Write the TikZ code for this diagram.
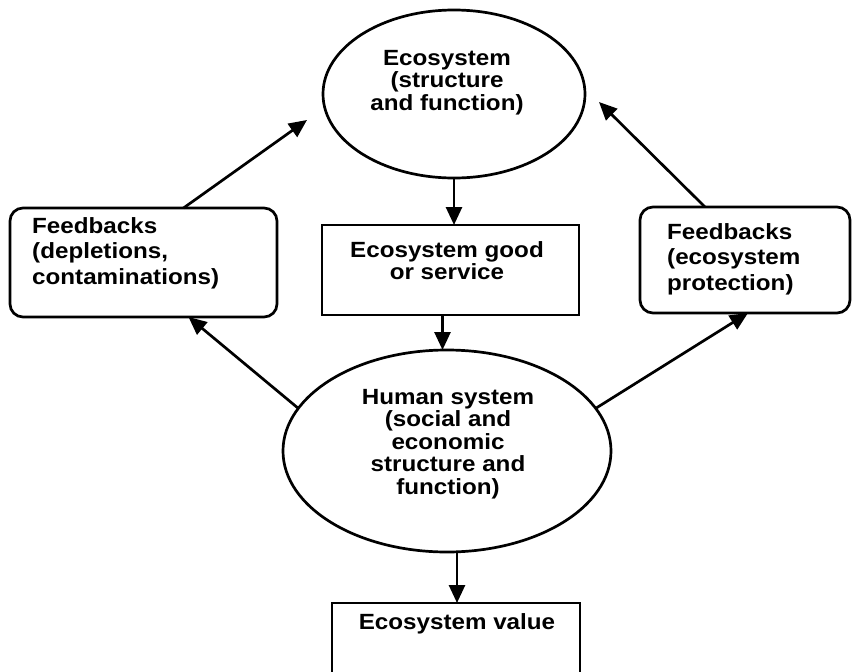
\documentclass[tikz,border=0pt]{standalone}
\usepackage{fontspec}
\setmainfont{Liberation Sans}[FakeStretch=1.1]
\usetikzlibrary{shapes.geometric,arrows.meta}
\begin{document}
\begin{tikzpicture}[x=1pt,y=-1pt,
  shp/.style={draw=black, line width=2.7pt, inner sep=0pt, outer sep=0pt},
  rbox/.style={shp, rectangle, rounded corners=13pt},
  lbl/.style={font=\fontsize{22}{22.5}\selectfont\bfseries, align=center, inner sep=0pt},
  flbl/.style={font=\fontsize{22}{25.5}\selectfont\bfseries, align=left, inner sep=0pt},
  arr/.style={-{Triangle[length=18pt,width=16pt]}, line width=2.7pt}]
\useasboundingbox (0,0) rectangle (852,672);
\clip (0,0) rectangle (852,672);
% shapes
\node[shp, ellipse, minimum width=262pt, minimum height=168pt] (eco) at (454,94) {};
\node[shp, rectangle, minimum width=257pt, minimum height=90pt] (good) at (450.5,270) {};
\node[rbox, minimum width=267pt, minimum height=109pt] (lbox) at (143.5,262.5) {};
\node[rbox, minimum width=210pt, minimum height=106pt] (rbx) at (745,260) {};
\node[shp, ellipse, minimum width=328pt, minimum height=202pt] (hum) at (447,451) {};
\node[shp, rectangle, minimum width=248pt, minimum height=90pt] (val) at (456,648) {};
% texts
\node[lbl, anchor=north] (ecot) at (447,50) {Ecosystem\\(structure\\and function)};
\node[lbl, anchor=north] (goodt) at (447,241) {Ecosystem good\\or service};
\node[flbl, anchor=north west] (lboxt) at (32,217) {Feedbacks\\(depletions,\\contaminations)};
\node[flbl, anchor=north west] (rbxt) at (667,223) {Feedbacks\\(ecosystem\\protection)};
\node[lbl, anchor=north] (humt) at (448,389) {Human system\\(social and\\economic\\structure and\\function)};
\node[lbl, anchor=north] (valt) at (457,613) {Ecosystem value};
% free arrow ends
\coordinate (ltip) at (307,120);
\coordinate (rtip) at (599,102);
% connectors
\draw[arr] (eco.south) -- (eco.south |- good.north);
\draw[arr] ([xshift=-8pt]good.south) -- ([xshift=-8pt]good.south |- hum.north);
\draw[arr] ([xshift=10pt]hum.south) -- ([xshift=10pt]hum.south |- val.north);
\draw[arr] ([xshift=40pt]lbox.north) -- (ltip);
\draw[arr] ([xshift=-40pt]rbx.north) -- (rtip);
\draw[arr] (hum.164) -- ([xshift=45pt]lbox.south);
\draw[arr] (hum.16) -- ([xshift=3pt]rbx.south);
\end{tikzpicture}
\end{document}
